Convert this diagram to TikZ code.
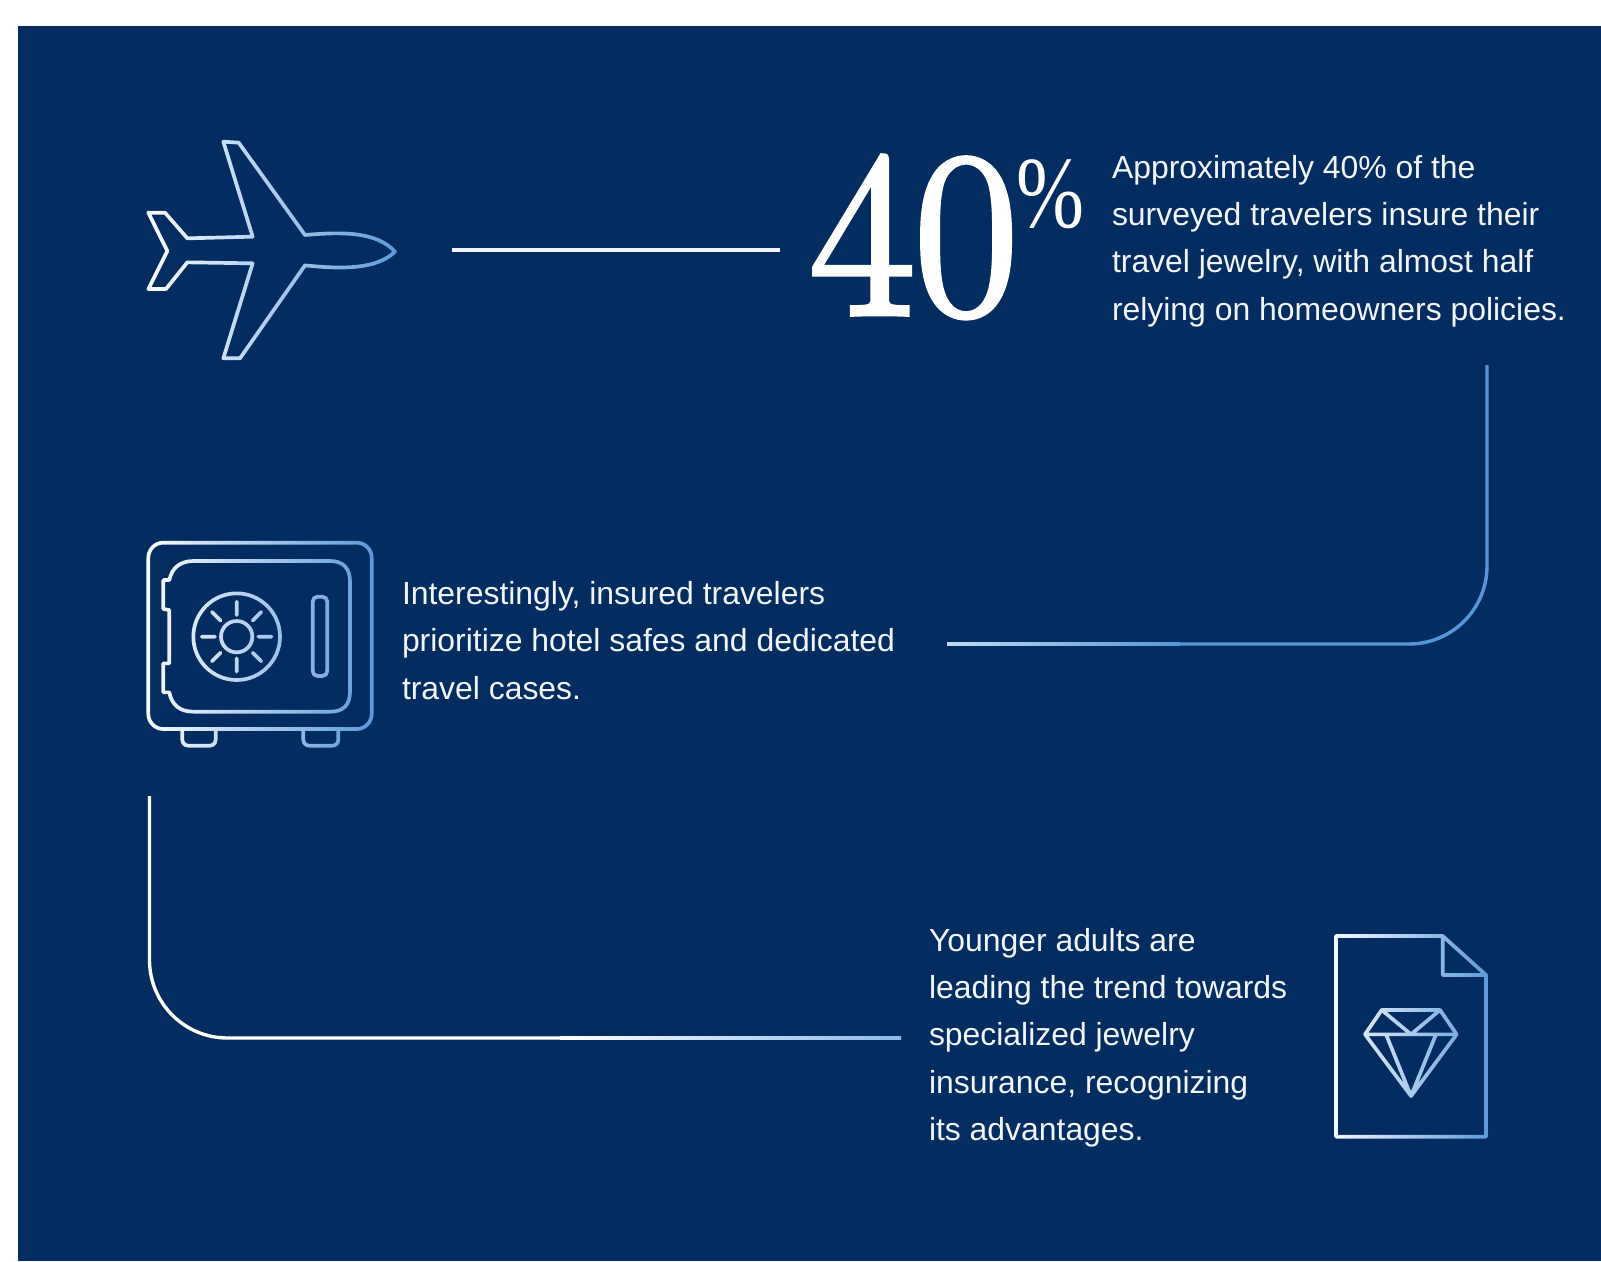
\documentclass[tikz,border=0pt]{standalone}
\usepackage{fontspec}
\usetikzlibrary{fadings}
\setmainfont{Liberation Sans}
\newfontfamily\numfont[FakeBold=2.4]{Latin Modern Roman}
\newfontfamily\pctfont{Liberation Serif}
\definecolor{navy}{HTML}{032C60}
\definecolor{paper}{HTML}{FFFFFF}
\definecolor{inkwhite}{HTML}{F2F6FB}
\definecolor{skyblue}{HTML}{5596D6}
\definecolor{paleblue}{HTML}{C0D9F0}
\definecolor{midblue}{HTML}{8DB9E6}
\tikzset{
  iconline/.style={line width=3.7pt,line cap=round,line join=round,transparent!0},
  conn/.style={line width=3.4pt,rounded corners=78pt},
  para/.style={anchor=north west,inner sep=0pt,outer sep=0pt,align=left,text=inkwhite,
    font=\fontsize{31.9}{47.3}\selectfont},
}
\begin{tikzfadingfrompicture}[name=planefade,x=1pt,y=-1pt]
\fill[transparent!100] (130,120) rectangle (420,380);
\begin{scope}[shift={(130,120)},scale=1/3]
\draw[iconline]
  (280,65) -- (326,68) -- (525,345) .. controls (640,335) and (740,335) .. (795,395)
  .. controls (740,448) and (640,448) .. (525,436) -- (330,715) -- (280,715) -- (368,430)
  -- (172,427) -- (108,507) -- (55,507) -- (112,393) -- (55,278) -- (105,278) -- (172,355)
  -- (368,350) -- cycle;
\end{scope}
\end{tikzfadingfrompicture}
\begin{tikzfadingfrompicture}[name=safefade,x=1pt,y=-1pt]
\fill[transparent!100] (130,525) rectangle (390,765);
\begin{scope}[shift={(130,530)},scale=1/3]
\draw[iconline,rounded corners=15pt] (55,38) rectangle (725,597);
\draw[iconline]
  (100,150) -- (118,150) .. controls (125,115) and (150,93) .. (190,93) -- (600,93)
  .. controls (640,93) and (660,115) .. (660,155) -- (660,485)
  .. controls (660,525) and (640,545) .. (600,545) -- (190,545)
  .. controls (150,545) and (125,525) .. (118,487) -- (100,487) -- (100,400) -- (118,400)
  -- (118,240) -- (100,237) -- cycle;
\draw[iconline,rounded corners=5pt] (548,200) rectangle (592,438);
\draw[iconline,rounded corners=6pt]
  (157,600) -- (157,647) -- (257,647) -- (257,600)
  (520,600) -- (520,647) -- (625,647) -- (625,600);
\draw[iconline]
  (320,320) circle [radius=130] (320,320) circle [radius=47]
  (320,215) -- (320,255) (320,385) -- (320,425)
  (215,320) -- (255,320) (385,320) -- (425,320)
  (246,246) -- (272,272) (394,246) -- (368,272)
  (246,394) -- (272,368) (394,394) -- (368,368);
\end{scope}
\end{tikzfadingfrompicture}
\begin{tikzfadingfrompicture}[name=docfade,x=1pt,y=-1pt]
\fill[transparent!100] (1315,915) rectangle (1505,1155);
\begin{scope}[shift={(1310,920)},scale=1/3]
\draw[iconline]
  (78,48) -- (398,48) -- (528,165) -- (528,650) -- (78,650) -- cycle
  (398,48) -- (398,165) -- (528,165);
\draw[iconline]
  (215,270) -- (390,270) -- (440,343) -- (303,528) -- (165,343) -- cycle
  (165,343) -- (440,343)
  (215,270) -- (303,343) -- (390,270)
  (228,343) -- (303,528) -- (378,343);
\end{scope}
\end{tikzfadingfrompicture}
\begin{document}
\begin{tikzpicture}[x=1pt,y=-1pt]
\useasboundingbox (0,0) rectangle (1601,1261);
\fill[paper] (0,0) rectangle (1601,1261);
\fill[navy] (18,26) rectangle (1601,1261);

% connectors
\coordinate (c1a) at (452,250);
\coordinate (c1b) at (780,250);
\coordinate (c2a) at (1487,365);
\coordinate (c2m) at (1487,644);
\coordinate (c2g) at (1180,644);
\coordinate (c2b) at (947,644);
\coordinate (c3a) at (149.5,796);
\coordinate (c3m) at (149.5,1038);
\coordinate (c3g) at (560,1038);
\coordinate (c3b) at (901,1038);
\draw[line width=3.2pt,inkwhite] (c1a) -- (c1b);
\draw[conn,skyblue] (c2a) -- (c2m) -- (c2g);
\shade[left color=paleblue,right color=skyblue] ([yshift=-1.7pt]c2b) rectangle ([yshift=1.7pt]c2g);
\draw[conn,white] (c3a) -- (c3m) -- (c3g);
\shade[left color=white,right color=midblue] ([yshift=-1.7pt]c3g) rectangle ([yshift=1.7pt]c3b);

% plane
\shade[path fading=planefade,fit fading=false,fading transform={shift={(275,250)}},
  left color=white,middle color=white,right color=skyblue] (140,130) rectangle (410,370);
% safe
\shade[path fading=safefade,fit fading=false,fading transform={shift={(260,645)}},
  left color=white,middle color=white,right color=skyblue] (140,535) rectangle (380,755);
% document with diamond
\shade[path fading=docfade,fit fading=false,fading transform={shift={(1410,1035)}},
  left color=white,middle color=white,right color=skyblue] (1325,925) rectangle (1495,1145);

% big number
\node[anchor=base west,inner sep=0pt,text=white,xscale=.96] (num) at (810,314)
  {\fontsize{236}{236}\selectfont\numfont 40};
\node[anchor=base west,inner sep=0pt,text=white,xscale=.8] (pct) at (1016,227)
  {\fontsize{102}{102}\selectfont\pctfont\%};

% texts
\node[para] (t1) at (1112,155) {Approximately 40\% of the\\surveyed travelers insure their\\travel jewelry, with almost half\\relying on homeowners policies.};
\node[para] (t2) at (402,581.5) {Interestingly, insured travelers\\prioritize hotel safes and dedicated\\travel cases.};
\node[para] (t3) at (929,928) {Younger adults are\\leading the trend towards\\specialized jewelry\\insurance, recognizing\\its advantages.};
\end{tikzpicture}
\end{document}
